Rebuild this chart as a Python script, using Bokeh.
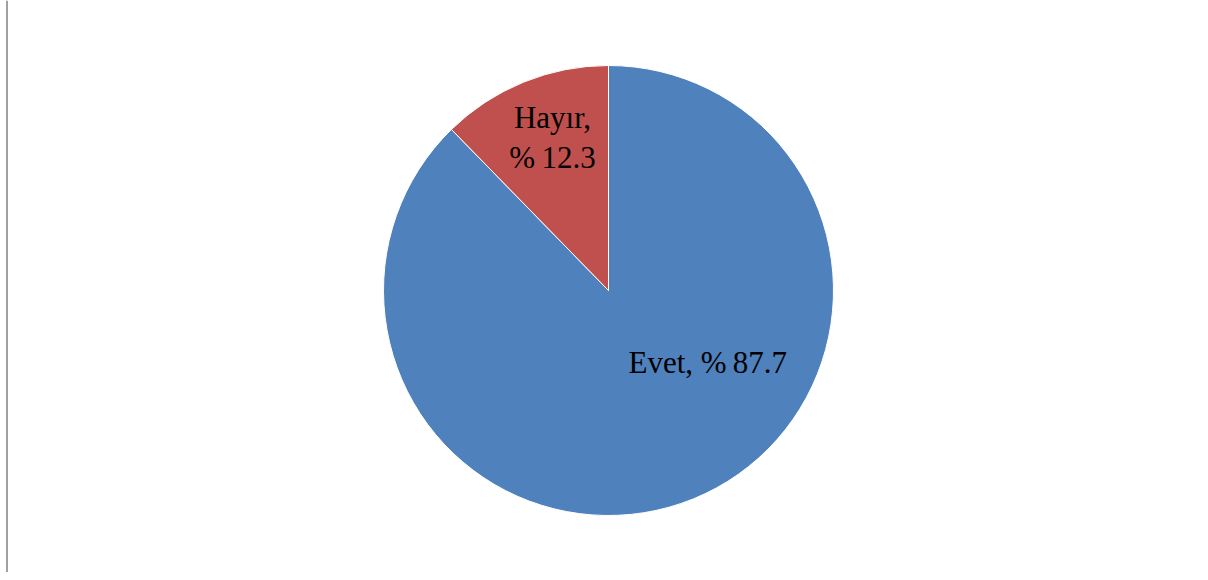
from math import pi
from bokeh.plotting import figure
from bokeh.models import Range1d, ColumnDataSource, Span
from bokeh.core.properties import value
from bokeh.embed import file_html
from bokeh.resources import INLINE

categories = ["Evet", "Hayır"]
percent = [87.7, 12.3]
colors = ["#4F81BD", "#C0504D"]

W, H = 1200, 572
p = figure(width=W, height=H, output_backend="svg", toolbar_location=None,
           x_range=Range1d(0, W), y_range=Range1d(0, H), min_border=0,
           outline_line_color=None, background_fill_color="white")
p.axis.visible = False
p.grid.visible = False

# frame edge line on the left, as in the reference
p.add_layout(Span(location=6.5, dimension="height", line_color="#A0A0A0", line_width=2))

cx, cy, r = 608, 282, 225
total = sum(percent)
hay_end = pi / 2 + percent[1] / total * 2 * pi
starts = [hay_end, pi / 2]
ends = [pi / 2 + 2 * pi, hay_end]
src = ColumnDataSource(dict(cat=categories, pct=percent, start=starts, end=ends, color=colors))
p.wedge(x=cx, y=cy, radius=r, start_angle="start", end_angle="end", color="color",
        line_color="white", line_width=1, source=src)

labels = [f"{c}, %\u2009{v}" if c == "Evet" else f"{c},\n%\u2009{v}" for c, v in zip(categories, percent)]
lx = [628, 552]
ly = [210, 435]
aligns = ["left", "center"]
lsrc = ColumnDataSource(dict(x=lx, y=ly, t=labels, a=aligns))
p.text(x="x", y="y", text="t", text_align="a", text_baseline="middle",
       text_font=value("Liberation Serif"), text_font_size="31px", text_color="black",
       text_line_height=1.15, source=lsrc)

open("out.html", "w").write(file_html(p, INLINE))
